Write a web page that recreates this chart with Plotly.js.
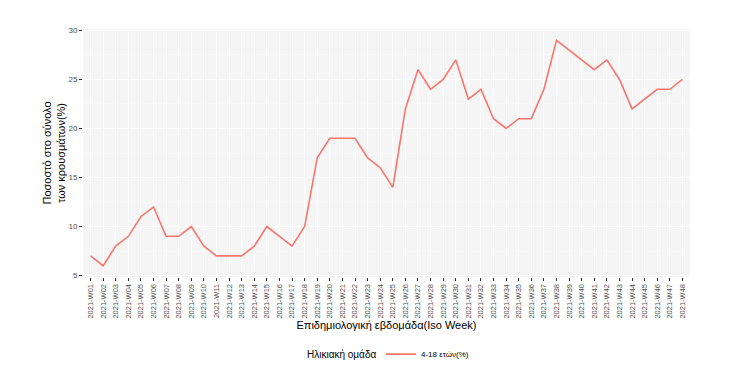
<!DOCTYPE html>
<html>
<head>
<meta charset="utf-8">
<script src="https://cdn.plot.ly/plotly-3.0.1.min.js"></script>
<style>html,body{margin:0;padding:0;background:#fff;}#chart{width:748px;height:380px;}</style>
</head>
<body>
<div id="chart"></div>
<script>
const weeks = ["2021-W01","2021-W02","2021-W03","2021-W04","2021-W05","2021-W06","2021-W07","2021-W08","2021-W09","2021-W10","2021-W11","2021-W12","2021-W13","2021-W14","2021-W15","2021-W16","2021-W17","2021-W18","2021-W19","2021-W20","2021-W21","2021-W22","2021-W23","2021-W24","2021-W25","2021-W26","2021-W27","2021-W28","2021-W29","2021-W30","2021-W31","2021-W32","2021-W33","2021-W34","2021-W35","2021-W36","2021-W37","2021-W38","2021-W39","2021-W40","2021-W41","2021-W42","2021-W43","2021-W44","2021-W45","2021-W46","2021-W47","2021-W48"];
const pct4to18 = [7,6,8,9,11,12,9,9,10,8,7,7,7,8,10,9,8,10,17,19,19,19,17,16,14,22,26,24,25,27,23,24,21,20,21,21,24,29,28,27,26,27,25,22,23,24,24,25];
const seriesName = "4-18 ετών(%)";
const legendTitle = "Ηλικιακή ομάδα";
const yTicks = [5,10,15,20,25,30];

const trace = {
  x: weeks, y: pct4to18, type: "scatter", mode: "lines", name: seriesName,
  line: {color: "#F8766D", width: 1.6}
};
const layout = {
  width: 748, height: 380,
  margin: {l: 83, r: 58, t: 29, b: 103},
  paper_bgcolor: "#ffffff", plot_bgcolor: "#f5f5f5",
  font: {family: "Liberation Sans, Arial, sans-serif", color: "#000"},
  xaxis: {
    type: "category", range: [-0.6, weeks.length - 0.4], automargin: false,
    tickangle: -90, tickfont: {size: 7.5, color: "#4d4d4d"},
    ticks: "outside", ticklen: 3, tickcolor: "#333", tickwidth: 1,
    showgrid: true, gridcolor: "#ffffff", gridwidth: 1, zeroline: false, showline: false,
    title: {text: "Επιδημιολογική εβδομάδα(Iso Week)", font: {size: 11, color: "#000"}, standoff: 3}
  },
  yaxis: {
    range: [4.85, 30.15], tickvals: yTicks, ticktext: yTicks.map(String), automargin: false,
    tickfont: {size: 8, color: "#4d4d4d"},
    ticks: "outside", ticklen: 3, tickcolor: "#333", tickwidth: 1,
    showgrid: true, gridcolor: "#ffffff", gridwidth: 1, zeroline: false, showline: false,
    minor: {tickvals: [7.5,12.5,17.5,22.5,27.5], showgrid: true, gridcolor: "#fafafa", gridwidth: 0.6, ticks: ""},
    title: {text: "Ποσοστό στο σύνολο<br>των κρουσμάτων(%)", font: {size: 11, color: "#000"}, standoff: 0}
  },
  showlegend: true,
  legend: {
    orientation: "h", x: 381/748, xanchor: "left", xref: "container", y: 0.068, yanchor: "middle", yref: "container",
    itemwidth: 30,
    font: {size: 8, color: "#000"}, bgcolor: "rgba(0,0,0,0)"
  },
  annotations: [{
    text: legendTitle, xref: "paper", yref: "paper", showarrow: false,
    x: (378 - 83) / (748 - 83 - 58), xanchor: "right", y: (277 - 354) / (380 - 29 - 103), yanchor: "middle",
    font: {size: 10, color: "#000"}
  }]
};
Plotly.newPlot("chart", [trace], layout, {displayModeBar: false, staticPlot: true});
</script>
</body>
</html>
